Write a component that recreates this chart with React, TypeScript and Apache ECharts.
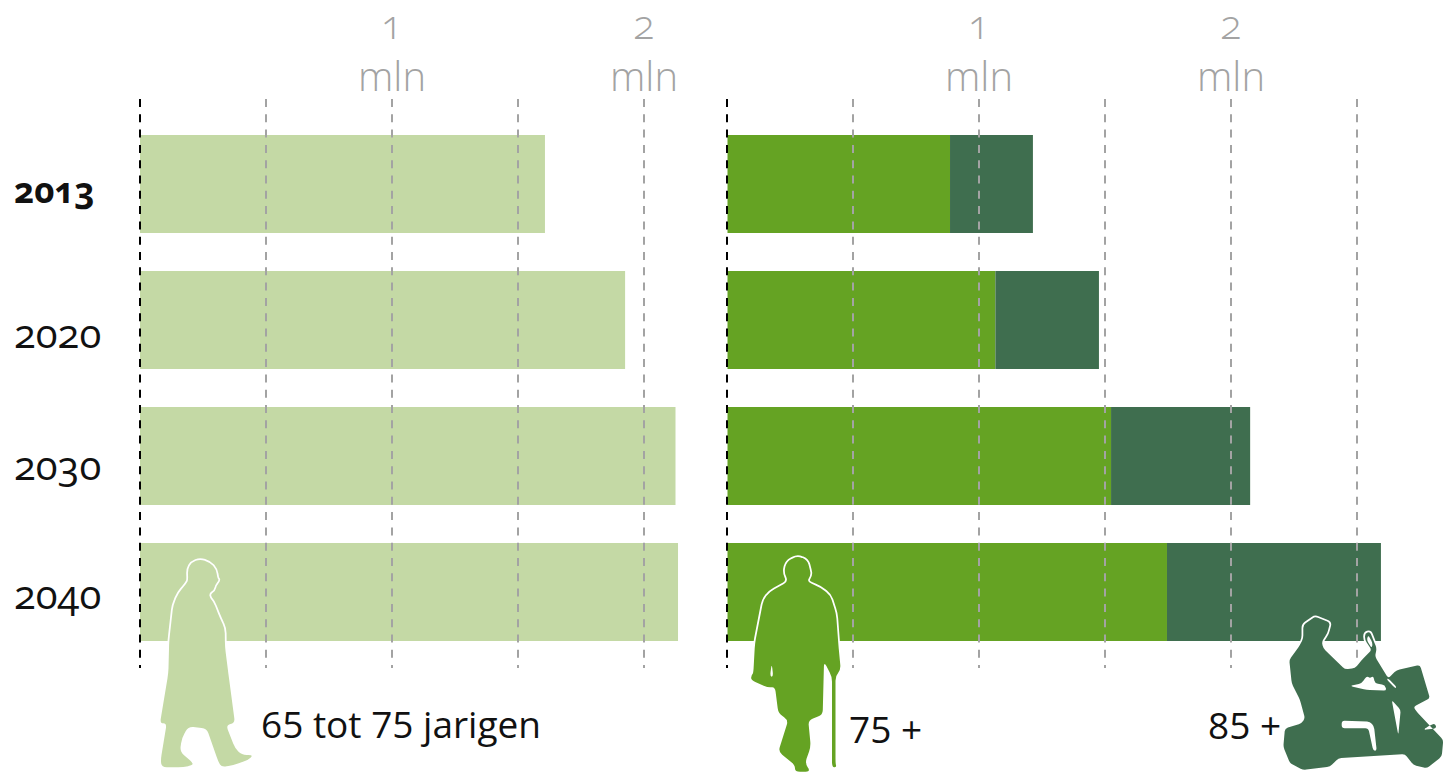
import React, { useEffect, useRef } from "react";
import * as echarts from "echarts";

const years = ["2013", "2020", "2030", "2040"];
const age65to75 = [1.607, 1.925, 2.125, 2.135];
const age75to85 = [0.883, 1.063, 1.522, 1.744];
const age85plus = [0.329, 0.411, 0.552, 0.849];
const labelShift = [5, 12, 8, 1];
const captions = ["65 tot 75 jarigen", "75 +", "85 +"];

const FONT = "Open Sans";
const LIGHT = "#c4d9a5";
const MID = "#65a323";
const DARK = "#3f6e4f";
const GRAY = "#a3a3a3";

const walker = "M200 559.3L210 562.3L216 569.3L217.3 578.3L219 580L215 585L214 590L209 593.3L210 598.3L213.3 601.7L220 618.3L224.7 628.3L225 646.7L228.3 673.3L235 723.3L226 725L235 748.3L241.7 755L253.3 755L248.3 760L233.3 765L221.7 767.3L218.3 761.7L206.7 728.3L188.3 726.7L181.7 738.3L180 751.7L191.7 761.7L193.3 765L183.3 767.3L161.7 767.3L160.7 760L166.7 723.3L160 723.3L168.3 673.3L169.3 640L173.3 605L178.3 593.3L186.7 583.3L188.3 580L187.7 569.3L191.7 562.3Z";
const caneMan = "M797.3 556L807.3 560L810 570L810.7 575L806.7 581.7L820 587.3L830 595L836 613.3L838.3 643.3L840.7 670L835.5 675.7L835.5 763.3L836.5 767.3L832 767.3L832 676.7L824 661.7L822.7 715L808.3 720L810.7 746.7L805 763.3L810.7 771.7L795 771.7L795 765L778.3 751.7L788.3 720L778.3 713.3L775 686.7L768.3 687.7L750.7 680L751.7 675L753.3 673.3L755 643.3L763.3 600L770 591.7L788.3 581.7L784 571.7L786.7 561.7Z M771.7 663.3L770 676.7L773.3 676.7Z";
const scooter = "M1303.3 625L1315 616.7L1330 622.7L1327.3 633.3L1321.7 641.7L1323.3 648.3L1345 669.3L1355 668.3L1363.3 658.3L1371.7 650L1365 640L1365 633.3L1370 631.7L1373.3 640L1376.7 648.3L1375 656.7L1388.3 678.3L1396.7 670L1420 665L1430 698.3L1413.3 706.7L1416.7 711.7L1443.3 740L1441.7 756.7L1426.7 768.3L1413.3 765L1405 754L1338.3 758.3L1330 766.7L1303.3 770L1290 763.3L1283.3 746.7L1285 728.3L1301.7 723.3L1305 718.3L1300 700L1291.7 683.3L1289.3 660L1300 645L1303.3 638.3Z"
  + " M1341.7 720.7L1341.7 728.3L1368.3 728.3L1373.3 750.7L1376.7 750.7L1374 726L1370 721.7Z"
  + " M1350 686L1366.7 690L1386.7 690.7L1385 685L1375 683.3L1373.3 676L1370 678.3L1366.7 676L1361.7 683.3Z"
  + " M1386.7 679.3L1395 688.3L1396.7 687.3L1388.3 678.3Z"
  + " M1368.3 635L1366.7 640L1371.7 648.3L1372.7 643.3Z"
  + " M1391.7 700L1398.3 735L1400.7 710Z"
  + " M1423.3 730L1436.7 728.3L1435 723.3L1428.3 726Z";

// Softens the corners of a traced outline so that it reads as a silhouette.
function soften(d: string, radius: number) {
  return d
    .split("M")
    .map((s) => s.trim().replace(/Z$/, ""))
    .filter(Boolean)
    .map((s) => {
      const pts = s.split("L").map((p) => p.trim().split(" ").map(Number));
      const n = pts.length;
      const toward = (a: number[], b: number[]) => {
        const len = Math.hypot(b[0] - a[0], b[1] - a[1]) || 1;
        const r = Math.min(radius, len / 2);
        return [a[0] + ((b[0] - a[0]) * r) / len, a[1] + ((b[1] - a[1]) * r) / len];
      };
      let out = "";
      pts.forEach((p, i) => {
        const a = toward(p, pts[(i - 1 + n) % n]);
        const b = toward(p, pts[(i + 1) % n]);
        out += `${i === 0 ? "M" : "L"}${a[0].toFixed(1)} ${a[1].toFixed(1)}Q${p[0]} ${p[1]} ${b[0].toFixed(1)} ${b[1].toFixed(1)}`;
      });
      return out + "Z";
    })
    .join(" ");
}

echarts.graphic.registerShape("walker", echarts.graphic.extendPath(soften(walker, 5), {}) as any);
echarts.graphic.registerShape("caneMan", echarts.graphic.extendPath(soften(caneMan, 5), {}) as any);
echarts.graphic.registerShape("scooter", echarts.graphic.extendPath(soften(scooter, 3), {}) as any);

function figure(type: string, fill: string) {
  return [
    { type, z: 20, style: { fill: "none", stroke: "#fff", lineWidth: 3.5, lineJoin: "round" } },
    { type, z: 21, style: { fill } },
  ];
}

function caption(text: string, x: number, y: number) {
  return {
    type: "text",
    x,
    y,
    z: 22,
    style: { text, fill: "#111", font: `37px "${FONT}"` },
  };
}

function backdropX(gridIndex: number, max: number) {
  const line = { fontFamily: FONT, fontWeight: 300, fontSize: 40, color: GRAY };
  return {
    type: "value",
    gridIndex,
    position: "top",
    min: 0,
    max,
    interval: 0.5,
    z: 5,
    axisLine: { show: false },
    axisTick: { show: false },
    axisLabel: {
      margin: -8,
      showMaxLabel: false,
      hideOverlap: false,
      formatter: (v: number) => (Number.isInteger(v) && v > 0 ? `{n|${v}}\n{u|mln}` : ""),
      rich: {
        n: { ...line, lineHeight: 40 },
        u: { ...line, lineHeight: 64 },
      },
    },
    splitLine: {
      show: true,
      showMaxLine: false,
      lineStyle: {
        color: ["#000", GRAY, GRAY, GRAY, GRAY, GRAY, GRAY],
        width: 2,
        type: [8, 7.3],
      },
    },
  };
}

function barX(gridIndex: number, max: number) {
  return { type: "value", gridIndex, min: 0, max, show: false };
}

function bar(name: string, data: number[], color: string, axis: number, stack?: string) {
  return {
    name,
    type: "bar",
    data,
    stack,
    xAxisIndex: axis,
    yAxisIndex: axis,
    barWidth: 98,
    itemStyle: { color },
    z: 2,
  };
}

export default function App() {
  const ref = useRef<HTMLDivElement>(null);
  useEffect(() => {
    const chart = echarts.init(ref.current!, null, { renderer: "svg" });
    const hiddenY = (gridIndex: number) => ({ type: "value", gridIndex, min: 0, max: 1, show: false });
    const exact = { outerBoundsMode: "none", containLabel: false };
    const rich: Record<string, any> = {};
    years.forEach((_, i) => {
      rich[`y${i}`] = {
        fontFamily: FONT,
        fontSize: i === 0 ? 35 : 40,
        color: "#111",
        fontWeight: i === 0 ? 700 : 400,
        padding: [labelShift[i] * 2, 0, 0, 0],
      };
    });
    chart.setOption({
      animation: false,
      backgroundColor: "#fff",
      grid: [
        { ...exact, left: 140, top: 99, width: 252 * 2.2, height: 569 },
        { ...exact, left: 727, top: 99, width: 252 * 2.6, height: 569 },
        { ...exact, left: 140, top: 116, width: 252 * 2.2, height: 544 },
        { ...exact, left: 727.5, top: 116, width: 252 * 2.6, height: 544 },
      ],
      xAxis: [backdropX(0, 2.2), backdropX(1, 2.6), barX(2, 2.2), barX(3, 2.6)],
      yAxis: [
        hiddenY(0),
        hiddenY(1),
        {
          type: "category",
          gridIndex: 2,
          inverse: true,
          data: years,
          axisLine: { show: false },
          axisTick: { show: false },
          axisLabel: {
            margin: 126,
            align: "left",
            formatter: (v: string, i: number) => `{y${i}|${v}}`,
            rich,
          },
        },
        { type: "category", gridIndex: 3, inverse: true, data: years, show: false },
      ],
      series: [
        bar("65 tot 75 jarigen", age65to75, LIGHT, 2),
        bar("75 +", age75to85, MID, 3, "right"),
        bar("85 +", age85plus, DARK, 3, "right"),
      ],
      graphic: [
        ...figure("walker", LIGHT),
        ...figure("caneMan", MID),
        ...figure("scooter", DARK),
        caption(captions[0], 261, 705),
        caption(captions[1], 849, 710),
        caption(captions[2], 1208, 706),
      ],
    });
    return () => chart.dispose();
  }, []);
  return (
    <div
      ref={ref}
      style={{
        position: "absolute",
        left: 0,
        top: 0,
        width: 1447,
        height: 772,
        fontFeatureSettings: '"onum"',
      }}
    />
  );
}
